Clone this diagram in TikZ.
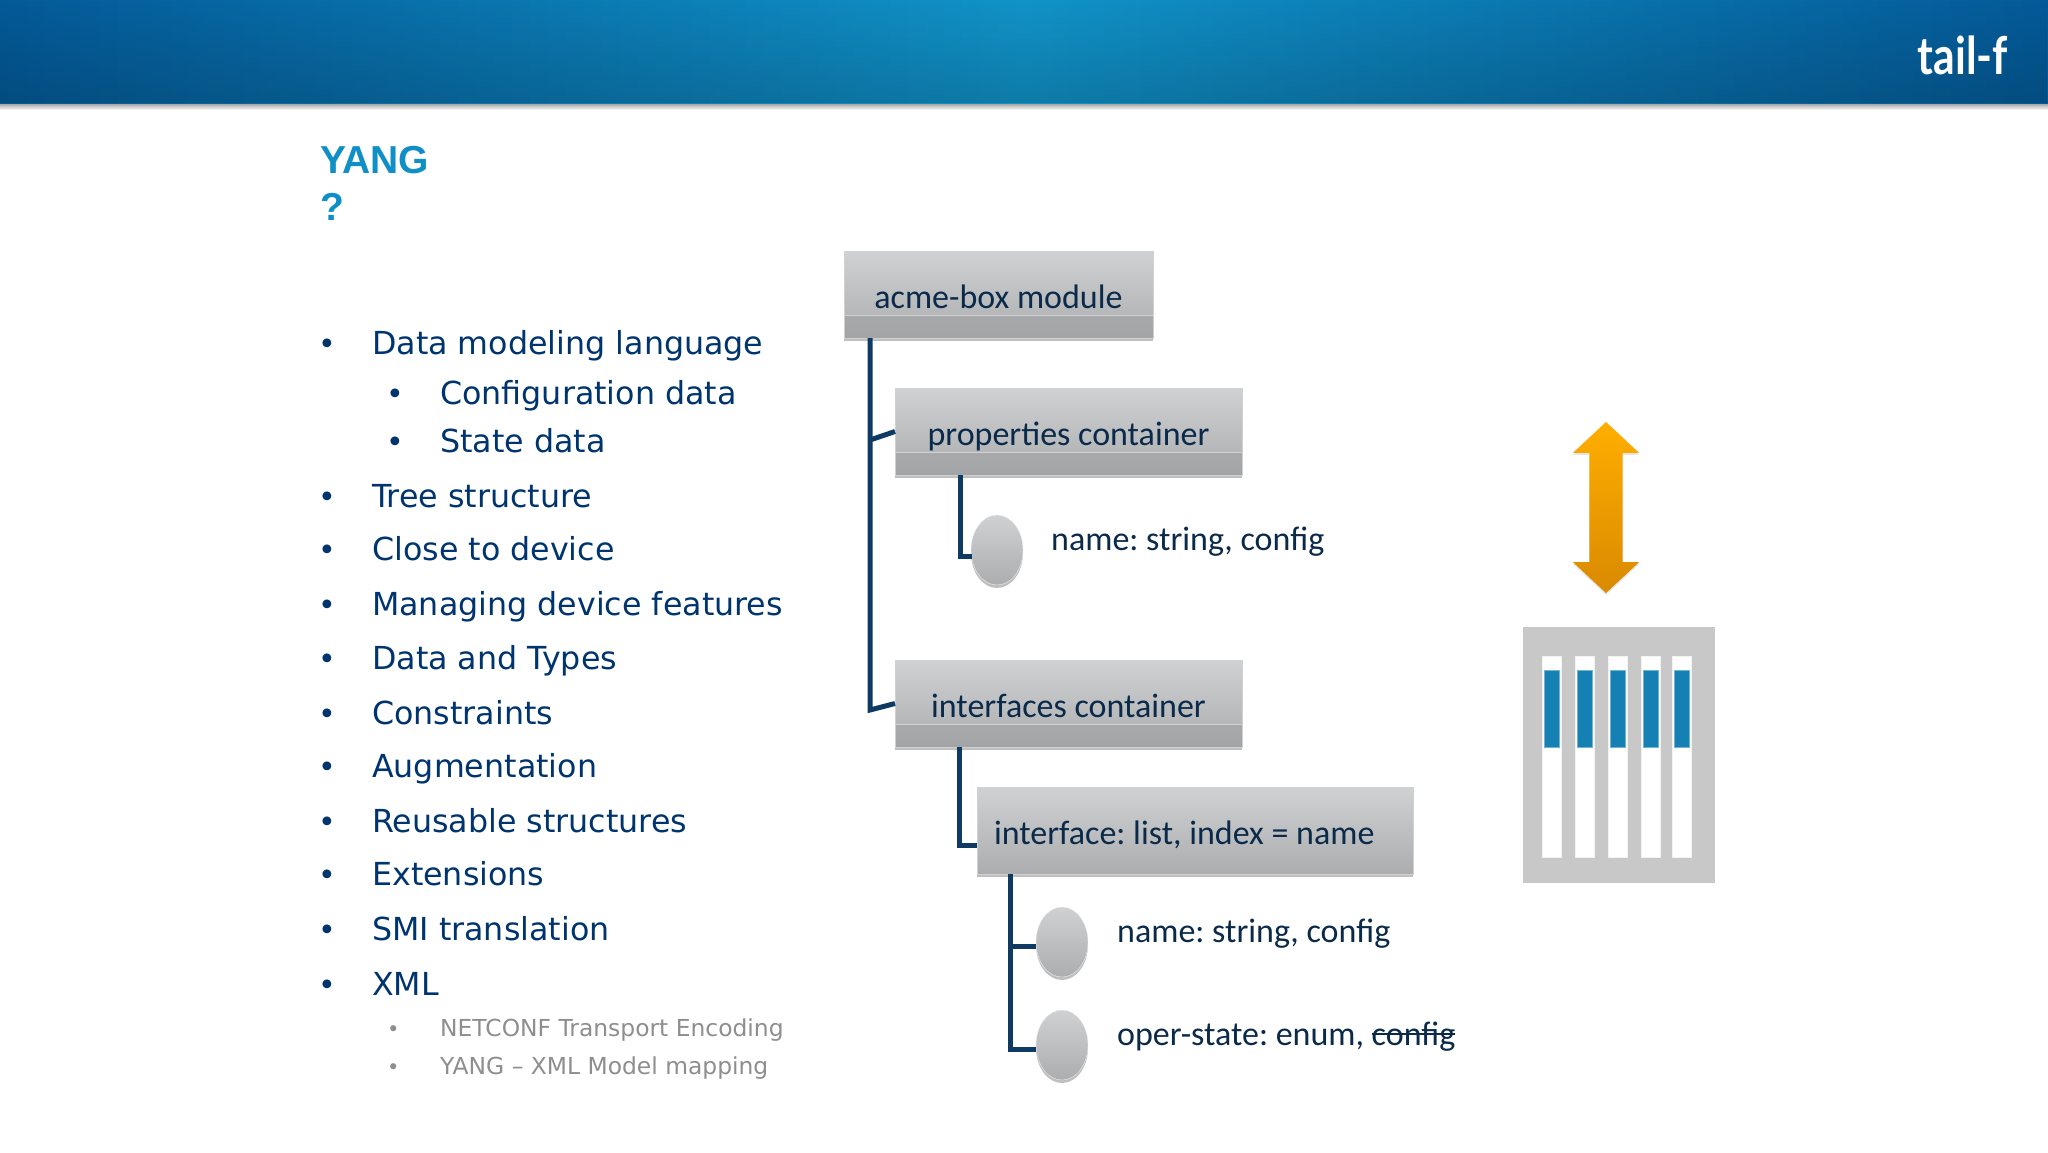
\documentclass[tikz,border=0pt]{standalone}
\usepackage{fontspec}
\usepackage{tikz}
\usetikzlibrary{positioning,shadows,shapes.geometric,shapes.arrows,fadings}
\newfontfamily\listfont{DejaVu Sans}
\newfontfamily\treefont{Carlito}
\newfontfamily\titlefont{Liberation Sans}
\newfontfamily\logofont[FakeStretch=0.82]{Lato}
\newsavebox{\struckbox}
\newcommand{\struck}[1]{\sbox{\struckbox}{#1}\rlap{\rule[10pt]{\wd\struckbox}{1.6pt}}\usebox{\struckbox}}
\definecolor{bandedge}{HTML}{045A98}
\definecolor{bandmid}{HTML}{1193C8}
\definecolor{titleblue}{HTML}{0F8FC6}
\definecolor{listblue}{HTML}{00346F}
\definecolor{notegray}{HTML}{8E8E8E}
\definecolor{treeink}{HTML}{0B2A4A}
\definecolor{linkblue}{HTML}{0F3A63}
\definecolor{boxtop}{HTML}{CFD1D3}
\definecolor{boxbot}{HTML}{ABADAF}
\definecolor{striptop}{HTML}{B4B6B8}
\definecolor{stripbot}{HTML}{A2A4A6}
\definecolor{rackgray}{HTML}{C8C8C8}
\definecolor{bladeblue}{HTML}{1480B4}
\definecolor{arrowtop}{HTML}{FFAE00}
\definecolor{arrowbot}{HTML}{D98A00}
\tikzset{
  softshadow/.style = {drop shadow={shadow xshift=0pt, shadow yshift=-3pt, opacity=.25, fill=black}},
  basic/.style   = {rectangle, inner ysep=5pt, text height=52pt, text depth=25pt, outer sep=0pt,
                    top color=boxtop, bottom color=boxbot, draw=boxtop, line width=.6pt, softshadow,
                    text=treeink, font=\treefont\frenchspacing\fontsize{34}{40}\selectfont},
  container/.style = {basic, path picture={
      \shade[top color=striptop, bottom color=stripbot]
        ([yshift=23pt]path picture bounding box.south west) rectangle (path picture bounding box.south east);
      \draw[line width=1pt, boxtop]
        ([yshift=23pt]path picture bounding box.south west) -- ([yshift=23pt]path picture bounding box.south east);}},
  listbox/.style = {basic, align=flush left, text width=402pt, inner xsep=17pt},
  leaf/.style    = {ellipse, minimum width=52pt, minimum height=70pt, inner sep=0pt, outer sep=0pt,
                    top color=boxtop, bottom color=boxbot, draw=white!85!gray, softshadow},
  leaftext/.style = {anchor=base west, inner sep=0pt, text=treeink, font=\treefont\frenchspacing\fontsize{34}{40}\selectfont},
  link/.style    = {draw=linkblue, line width=5pt},
  lvl one/.style  = {anchor=base west, inner sep=0pt, text=listblue, font=\listfont\fontsize{31.7}{36}\selectfont},
  lvl two/.style  = {lvl one},
  lvl note/.style = {anchor=base west, inner sep=0pt, text=notegray, font=\listfont\fontsize{23.4}{30}\selectfont},
  title/.style   = {anchor=base west, inner sep=0pt, text=titleblue, font=\titlefont\bfseries\fontsize{39}{44}\selectfont},
  rack/.style    = {rectangle, fill=rackgray, inner sep=0pt, outer sep=0pt, minimum width=192pt, minimum height=256pt},
  slot/.style    = {rectangle, fill=white, draw=white!90!gray, line width=.8pt, inner sep=0pt, minimum width=19pt, minimum height=201pt},
  blade/.style   = {rectangle, fill=bladeblue, draw=bladeblue!60!white, line width=.8pt, inner sep=0pt, minimum width=15pt, minimum height=77pt}
}
\begin{document}
\begin{tikzpicture}[x=1pt,y=-1pt]
    \useasboundingbox (0,0) rectangle (2048,1152);

    % header band
    \shade[top color=black!45, bottom color=white] (0,102) rectangle (2048,110);
    \shade[left color=bandedge, right color=bandedge, middle color=bandmid] (0,0) rectangle (2048,103);
    \fill[black, opacity=.16, path fading=north] (0,0) rectangle (2048,103);
    \node[anchor=base east, inner sep=0pt, text=white, font=\logofont\bfseries\fontsize{52}{54}\selectfont] (logo) at (2008,74) {tail-f};

    % title
    \node[title] (yang) at (320,173) {YANG};
    \node[title] (mark) at (320,220) {?};

    % bullet list
    \foreach \name/\ypos/\txt in {d1/354/Data modeling language,d2/507/Tree structure,d3/560/Close to device,
        d4/615/Managing device features,d5/669/Data and Types,d6/724/Constraints,d7/777/Augmentation,
        d8/832/Reusable structures,d9/885/Extensions,d10/940/SMI translation,d11/995/XML} {
      \node[lvl one] (\name) at (372,\ypos) {\txt};
      \node[lvl one, font=\listfont\fontsize{30}{36}\selectfont] (\name b) at (318.5,\ypos) {•};
    }
    \foreach \name/\ypos/\txt in {d12/404/Configuration data,d13/452/State data} {
      \node[lvl two] (\name) at (440,\ypos) {\txt};
      \node[lvl two, font=\listfont\fontsize{30}{36}\selectfont] (\name b) at (386.5,\ypos) {•};
    }
    \foreach \name/\ypos/\txt in {n1/1036/NETCONF Transport Encoding,n2/1074/YANG – XML Model mapping} {
      \node[lvl note] (\name) at (440,\ypos) {\txt};
      \node[lvl note, font=\listfont\fontsize{21}{24}\selectfont] (\name b) at (387,\ypos) {•};
    }

    % tree of boxes
    \node[container, minimum width=309pt, anchor=north west] (acme) at (844,251) {acme-box module};
    \node[container, minimum width=347pt, below right=50pt and 51pt of acme.south west] (props) {properties container};
    \node[container, minimum width=347pt, below=185pt of props.south west, anchor=north west] (ifaces) {interfaces container};
    \node[listbox, below right=40pt and 82pt of ifaces.south west] (list) {interface: list, index = name};

    % leaves
    \node[leaf] (leaf1) at (997,550) {};
    \node[leaf] (leaf2) at (1062,942) {};
    \node[leaf] (leaf3) at (1062,1045) {};
    \node[leaftext] (name1) at ([xshift=28pt]leaf1.east) {name: string, config};
    \node[leaftext] (name2) at ([xshift=29pt]leaf2.east) {name: string, config};
    \node[leaftext] (oper) at ([xshift=29pt]leaf3.east) {oper-state: enum, \struck{config}};

    % connectors
    \coordinate (bend1) at (870,440);
    \coordinate (bend2) at (870,710);
    \draw[link] ([xshift=26pt]acme.south west) -- (bend2) -- (ifaces.west);
    \draw[link] (bend1) -- (props.west);
    \draw[link] ([xshift=65pt]props.south west) |- (leaf1.195);
    \draw[link] ([xshift=64pt]ifaces.south west) |- ([yshift=-15pt]list.west);
    \draw[link] ([xshift=33pt]list.south west) |- (leaf2.190);
    \draw[link] ([xshift=33pt]list.south west) |- (leaf3.190);

    % arrow and device
    \node[double arrow, shape border rotate=90, minimum height=171pt, minimum width=66pt, inner sep=0pt, text width=33pt,
          double arrow head extend=16.5pt, double arrow tip angle=94,
          top color=arrowtop, bottom color=arrowbot, drop shadow={shadow xshift=0pt, shadow yshift=-2pt, opacity=.2}] (updown) at (1606,507.5) {};
    \node[rack, anchor=north west] (device) at (1523,627) {};
    \foreach \i/\off in {1/19,2/52,3/85,4/118,5/149} {
      \node[slot, anchor=north west] (slot\i) at ([xshift=\off pt, yshift=-29pt]device.north west) {};
      \node[blade, anchor=north west] (blade\i) at ([xshift=2pt, yshift=-14pt]slot\i.north west) {};
    }
\end{tikzpicture}
\end{document}
